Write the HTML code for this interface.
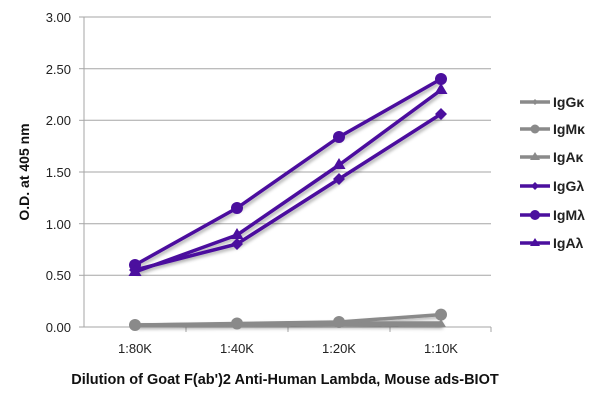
<!DOCTYPE html>
<html><head><meta charset="utf-8"><style>body{margin:0;background:#fff}svg{display:block}</style></head><body>
<svg width="600" height="400" xmlns="http://www.w3.org/2000/svg" font-family="Liberation Sans, sans-serif">
<defs><filter id="sh" x="-10%" y="-10%" width="130%" height="130%"><feDropShadow dx="2" dy="2" stdDeviation="1.5" flood-color="#000" flood-opacity="0.3"/></filter></defs>
<g stroke="#a6a6a6" stroke-width="1">
<line x1="84" y1="17" x2="491" y2="17"/><line x1="84" y1="68.7" x2="491" y2="68.7"/><line x1="84" y1="120.3" x2="491" y2="120.3"/><line x1="84" y1="172" x2="491" y2="172"/><line x1="84" y1="223.7" x2="491" y2="223.7"/><line x1="84" y1="275.3" x2="491" y2="275.3"/><line x1="84" y1="327" x2="491" y2="327"/>
<line x1="84" y1="17" x2="84" y2="327"/>
<line x1="79" y1="17" x2="84" y2="17"/><line x1="79" y1="68.7" x2="84" y2="68.7"/><line x1="79" y1="120.3" x2="84" y2="120.3"/><line x1="79" y1="172" x2="84" y2="172"/><line x1="79" y1="223.7" x2="84" y2="223.7"/><line x1="79" y1="275.3" x2="84" y2="275.3"/><line x1="79" y1="327" x2="84" y2="327"/>
<line x1="186" y1="327" x2="186" y2="332"/><line x1="288" y1="327" x2="288" y2="332"/><line x1="390" y1="327" x2="390" y2="332"/><line x1="491" y1="327" x2="491" y2="332"/>
</g>
<g font-size="13" fill="#222" text-anchor="end">
<text x="71" y="22">3.00</text><text x="71" y="74">2.50</text><text x="71" y="125">2.00</text><text x="71" y="177">1.50</text><text x="71" y="229">1.00</text><text x="71" y="280">0.50</text><text x="71" y="332">0.00</text>
</g>
<g font-size="13" fill="#222" text-anchor="middle">
<text x="135" y="353">1:80K</text><text x="237" y="353">1:40K</text><text x="339" y="353">1:20K</text><text x="441" y="353">1:10K</text>
</g>
<text x="285" y="384" font-size="14.5" font-weight="bold" text-anchor="middle" fill="#111">Dilution of Goat F(ab')2 Anti-Human Lambda, Mouse ads-BIOT</text>
<text transform="translate(29,172) rotate(-90)" font-size="14" font-weight="bold" text-anchor="middle" fill="#111">O.D. at 405 nm</text>
<g filter="url(#sh)" stroke-width="3.5" fill="none" stroke-linejoin="round">
<polyline stroke="#8a8a8a" points="135,325 237,324 339,323 441,323"/>
<polyline stroke="#8a8a8a" points="135,325 237,323.5 339,322 441,314.6"/>
<polyline stroke="#8a8a8a" points="135,325.5 237,325 339,324.5 441,325"/>
<polyline stroke="#4b0f9e" points="135,270 237,244 339,179 441,114"/>
<polyline stroke="#4b0f9e" points="135,265 237,208 339,137 441,79"/>
<polyline stroke="#4b0f9e" points="135,272 237,235 339,165 441,90"/>
</g>
<g fill="#8a8a8a">
<circle cx="135" cy="325" r="6"/><circle cx="237" cy="323.5" r="6"/><circle cx="339" cy="322" r="6"/><circle cx="441" cy="314.6" r="6"/>
<path d="M441,319 l5,8 h-10z"/><path d="M339,319 l5,8 h-10z"/>
</g>
<g fill="#4b0f9e">
<path d="M135,264 l6,6 -6,6 -6,-6z M237,238 l6,6 -6,6 -6,-6z M339,173 l6,6 -6,6 -6,-6z M441,108 l6,6 -6,6 -6,-6z"/>
<circle cx="135" cy="265" r="6"/><circle cx="237" cy="208" r="6"/><circle cx="339" cy="137" r="6"/><circle cx="441" cy="79" r="6"/>
<path d="M135,265 l6.5,11 h-13z M237,228 l6.5,11 h-13z M339,158 l6.5,11 h-13z M441,83 l6.5,11 h-13z"/>
</g>
<g stroke-width="3.5">
<line x1="520" y1="102" x2="550" y2="102" stroke="#8a8a8a"/>
<line x1="520" y1="129" x2="550" y2="129" stroke="#8a8a8a"/>
<line x1="520" y1="157" x2="550" y2="157" stroke="#8a8a8a"/>
<line x1="520" y1="186" x2="550" y2="186" stroke="#4b0f9e"/>
<line x1="520" y1="215" x2="550" y2="215" stroke="#4b0f9e"/>
<line x1="520" y1="243" x2="550" y2="243" stroke="#4b0f9e"/>
</g>
<path d="M535,99 l3,3 -3,3 -3,-3z" fill="#8a8a8a"/>
<circle cx="535" cy="129" r="4.5" fill="#8a8a8a"/>
<path d="M535,152 l5,8 h-10z" fill="#8a8a8a"/>
<path d="M535,182 l4,4 -4,4 -4,-4z" fill="#4b0f9e"/>
<circle cx="535" cy="215" r="5" fill="#4b0f9e"/>
<path d="M535,238 l5,8 h-10z" fill="#4b0f9e"/>
<g font-size="14" font-weight="bold" fill="#222">
<text x="553" y="107">IgGκ</text><text x="553" y="134">IgMκ</text><text x="553" y="162">IgAκ</text><text x="553" y="191">IgGλ</text><text x="553" y="220">IgMλ</text><text x="553" y="248">IgAλ</text>
</g>
</svg>
</body></html>
